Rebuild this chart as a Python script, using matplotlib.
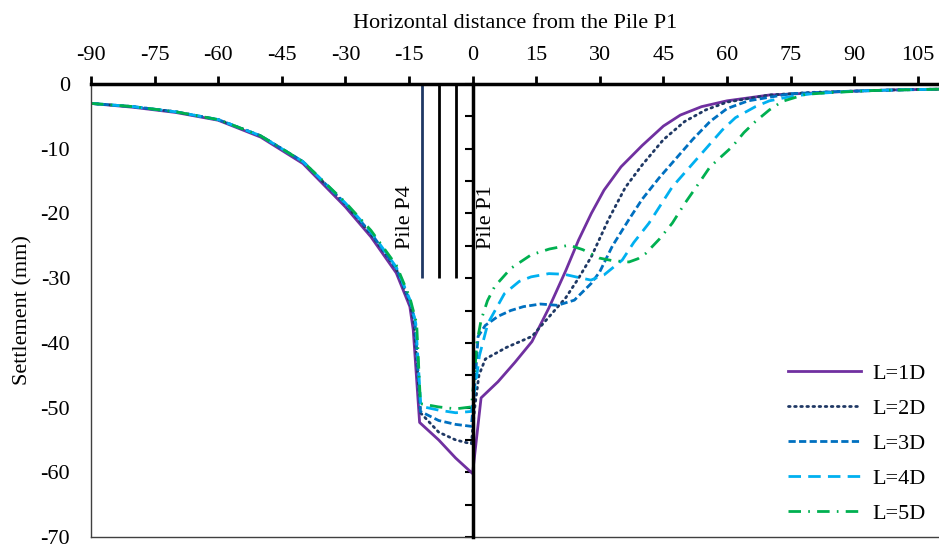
import numpy as np
import matplotlib
matplotlib.use("Agg")
import matplotlib.pyplot as plt
from matplotlib.ticker import MultipleLocator

plt.rcParams['font.family'] = ['Liberation Serif', 'DejaVu Serif']
plt.rcParams['font.size'] = 16
plt.rcParams['axes.unicode_minus'] = False

# Settlement curves (x = distance from pile P1, y = settlement in mm)
x_1d = [-90, -80, -70, -60, -50, -40, -30, -24, -18, -14.8, -14, -12.5, -8, -4, 0,
        2, 6, 10, 14, 18, 22, 25, 28, 31, 35, 40, 45, 49, 54, 60, 70, 80, 90, 100, 110]
y_1d = [-3.0, -3.6, -4.4, -5.6, -8.2, -12.3, -19.0, -23.6, -29.2, -34.4, -38.0, -52.3, -55.0, -57.8, -60.2,
        -48.5, -46.0, -43.0, -39.8, -34.6, -28.8, -24.1, -20.0, -16.4, -12.8, -9.5, -6.5, -4.8, -3.5, -2.6, -1.7, -1.4, -1.1, -0.9, -0.8]

x_2d = [-90, -80, -70, -60, -50, -40, -30, -24, -18, -14.8, -13.8, -12.3, -8, -4, -0.3,
        0.5, 1.5, 3, 8, 14, 18, 22, 25, 28, 32, 36, 40, 45, 50, 55, 60, 70, 80, 90, 100, 110]
y_2d = [-3.0, -3.5, -4.3, -5.5, -8.0, -12.0, -18.6, -23.2, -28.6, -33.8, -37.0, -50.8, -53.8, -55.0, -55.6,
        -50.0, -45.0, -42.5, -40.7, -39.0, -36.0, -33.0, -30.0, -26.7, -21.0, -16.0, -12.5, -8.6, -5.8, -4.0, -2.8, -1.7, -1.3, -1.1, -0.9, -0.8]

x_3d = [-90, -80, -70, -60, -50, -40, -30, -24, -18, -14.8, -13.6, -12.3, -8, -4, -0.3,
        0.5, 1.3, 3, 6, 9, 12, 16, 20, 24, 28, 30, 33, 37, 40, 44, 48, 52, 56, 60, 65, 75, 85, 95, 110]
y_3d = [-3.0, -3.5, -4.3, -5.5, -8.0, -12.0, -18.5, -23.0, -28.5, -33.5, -36.5, -50.6, -52.0, -52.6, -52.9,
        -47.0, -39.0, -37.3, -35.9, -35.0, -34.4, -34.0, -34.2, -33.4, -30.8, -29.0, -25.0, -20.8, -17.8, -14.5, -11.5, -8.5, -5.8, -3.8, -2.6, -1.5, -1.2, -1.0, -0.8]

x_4d = [-90, -80, -70, -60, -50, -40, -30, -24, -18, -14.8, -13.4, -12.2, -8, -4, -0.3,
        0.8, 1.6, 3.6, 7.5, 11, 13.8, 18, 21.6, 25, 27.9, 31, 35.3, 38, 41.6, 47.1, 53.4, 58.9, 62, 66.7, 70, 74.5, 80, 90, 100, 110]
y_4d = [-3.0, -3.5, -4.3, -5.5, -8.0, -12.0, -18.4, -22.8, -28.3, -33.3, -37.0, -49.8, -50.4, -50.8, -50.6,
        -46.0, -42.0, -37.0, -32.4, -30.5, -29.8, -29.3, -29.4, -29.9, -30.3, -29.5, -27.2, -24.5, -21.5, -15.9, -11.2, -7.1, -5.2, -3.5, -2.6, -2.0, -1.5, -1.1, -0.9, -0.8]

x_5d = [-90, -80, -70, -60, -50, -40, -30, -24, -18, -14.8, -13.2, -12.3, -8, -4, -0.3,
        0.5, 1.0, 2.0, 3.5, 5.2, 9, 13.8, 18.1, 22.8, 26, 29.9, 33, 36.9, 39, 40.8, 44, 47.1, 50, 53.4, 56, 61.2, 64, 66.7, 70, 73, 78.5, 85, 95, 110]
y_5d = [-3.0, -3.5, -4.3, -5.5, -8.0, -12.0, -18.3, -22.6, -28.0, -33.0, -37.0, -49.4, -49.9, -50.2, -49.9,
        -44.7, -40.0, -36.5, -33.5, -31.3, -28.5, -26.4, -25.5, -24.9, -25.6, -26.9, -27.3, -27.5, -27.0, -26.2, -24.0, -21.5, -18.5, -15.3, -12.8, -9.7, -7.5, -5.8, -4.0, -2.7, -1.6, -1.3, -1.0, -0.8]

labels = ["L=1D", "L=2D", "L=3D", "L=4D", "L=5D"]
colors = ["#7030A0", "#1F3864", "#0070C0", "#00B0F0", "#00B050"]
styles = ["-", (0, (0.6, 1.6)), (0, (2.6, 1.2)), (0, (4.5, 2.6)), (0, (4.5, 2.6, 0.6, 2.6))]

# piles between P4 and P1 (P1 lies on the axis at x=0)
pile_x = [-12, -8, -4]
pile_colors = ["#1F3864", "black", "black"]
pile_tip = -30

fig = plt.figure(figsize=(9.39, 5.44), dpi=100)
ax = fig.add_axes([91/939, 7/544, 1 - 91/939, 453/544])

series = [(x_1d, y_1d), (x_2d, y_2d), (x_3d, y_3d), (x_4d, y_4d), (x_5d, y_5d)]
for (xs, ys), lab, c, ls in zip(series, labels, colors, styles):
    line, = ax.plot(xs, ys, color=c, linestyle=ls, linewidth=2, label=lab)
    if lab == "L=2D":
        line.set_dash_capstyle("round")

ax.vlines(pile_x, pile_tip, 0, colors=pile_colors, linewidth=2)
ax.text(-15.9, -20.5, "Pile P4", rotation=90, ha="center", va="center")
ax.text(3.2, -20.5, "Pile P1", rotation=90, ha="center", va="center")

ax.set_xlim(-90, 110)
ax.set_ylim(-70, 0)

# x axis on top
ax.xaxis.set_ticks_position("top")
ax.xaxis.set_label_position("top")
ax.set_xticks(np.arange(-90, 106, 15))
ax.tick_params(axis="x", direction="out", length=6, width=2, pad=8)
ax.set_xlabel("Horizontal distance from the Pile P1", labelpad=13)

# y axis drawn at x = 0, labels on the left
ax.spines["right"].set_position(("data", 0))
ax.yaxis.set_major_locator(MultipleLocator(10))
ax.yaxis.set_minor_locator(MultipleLocator(5))
ax.tick_params(axis="y", which="both", left=False, right=True, labelleft=True,
               labelright=False, direction="in", length=6, width=1.5)
ax.tick_params(axis="y", which="major", pad=15)
ax.set_ylabel("Settlement (mm)", labelpad=6)

ax.spines["top"].set_linewidth(2.5)
ax.spines["right"].set_linewidth(2.5)
ax.spines["top"].set_zorder(5)
ax.spines["right"].set_zorder(5)
for s in ["left", "bottom"]:
    ax.spines[s].set_linewidth(1)
    ax.spines[s].set_color("#404040")

ax.legend(loc="lower right", frameon=False, handlelength=3.3, labelspacing=0.65,
          handletextpad=0.5, borderaxespad=0.2, bbox_to_anchor=(1.0, 0.0))

fig.savefig("out.png", dpi=100)
